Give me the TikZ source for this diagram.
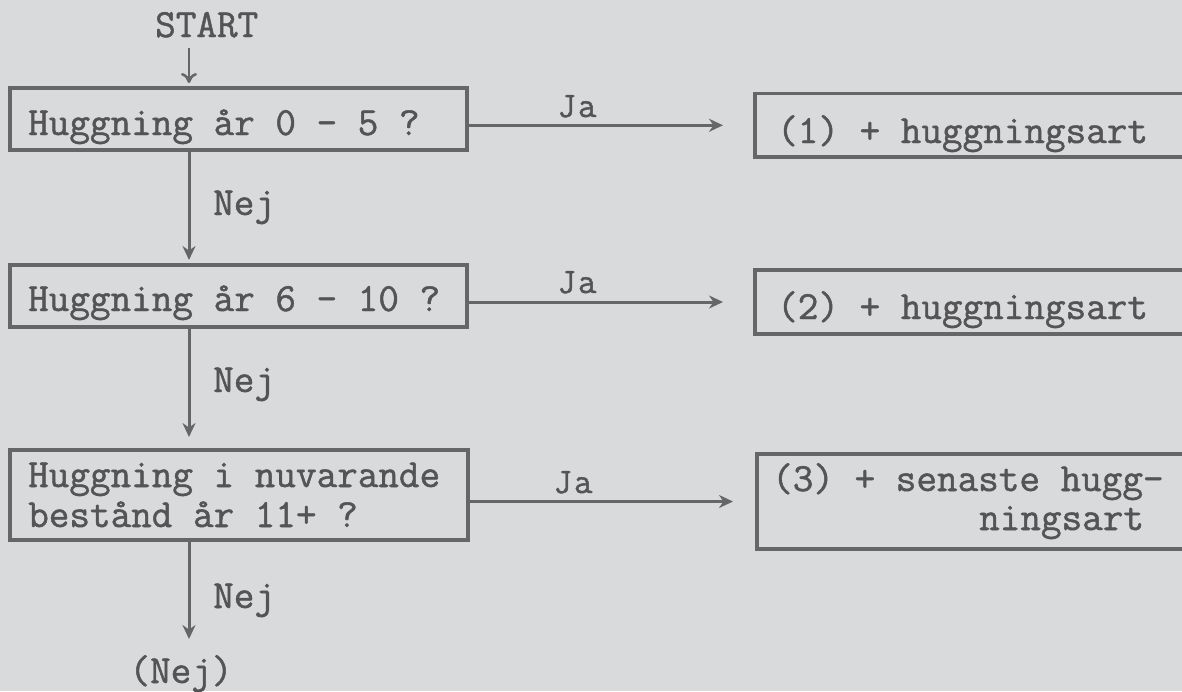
\documentclass[tikz,border=0pt]{standalone}
\usepackage{fontspec}
\setmonofont{Latin Modern Mono}[FakeBold=1.2]
\usetikzlibrary{arrows.meta,calc}
\definecolor{bgc}{RGB}{217,218,220}
\definecolor{linec}{RGB}{102,102,104}
\definecolor{textc}{RGB}{84,84,86}
\begin{document}
\begin{tikzpicture}[x=1pt,y=-1pt,
  box/.style={draw=linec, line width=3.4pt, inner sep=0pt, outer sep=0pt},
  txt/.style={inner sep=0pt, anchor=base west, text=textc, font=\fontsize{40}{40}\selectfont\ttfamily},
  jalbl/.style={inner sep=0pt, anchor=base, text=textc, font=\fontsize{36}{36}\selectfont\ttfamily},
  arr/.style={draw=linec, line width=3pt, -{Stealth[length=14pt,width=13pt]}},
  startarr/.style={draw=linec, line width=2.6pt, -{To[length=10pt,width=16pt]}}
  ]
\fill[bgc] (0,0) rectangle (1182,691);
\useasboundingbox (0,0) rectangle (1182,691);
\clip (0,0) rectangle (1182,691);
\coordinate (col) at (189,0);

% start
\node[txt] (start) at (155,37) {START};

% left boxes
\node[box, minimum width=457pt, minimum height=62pt] (b1) at (238.5,119) {};
\node[txt] (t1) at (28,135) {Huggning år 0 - 5 ?};
\node[box, minimum width=457pt, minimum height=62pt] (b2) at (238.5,296) {};
\node[txt] (t2) at (28,311) {Huggning år 6 - 10 ?};
\node[box, minimum width=458pt, minimum height=90pt] (b3) at (239,495) {};
\node[txt] (t3a) at (28,487) {Huggning i nuvarande};
\node[txt] (t3b) at (28,527) {bestånd år 11+ ?};

% right boxes (open to the right edge)
\node[box, minimum width=445pt, minimum height=63.4pt] (r1) at (977.5,125.3) {};
\node[txt] (rt1) at (777,143) {(1) + huggningsart};
\node[box, minimum width=445pt, minimum height=64pt] (r2) at (977.5,302) {};
\node[txt] (rt2) at (777,319) {(2) + huggningsart};
\node[box, minimum width=443pt, minimum height=95pt] (r3) at (978.5,501.5) {};
\node[txt] (rt3a) at (772,491) {(3) + senaste hugg-};
\node[txt] (rt3b) at (979,530) {ningsart};

% end
\node[txt, anchor=base] (nejend) at (181,683) {(Nej)};

% Nej labels
\node[txt] (n1) at (213,215) {Nej};
\node[txt] (n2) at (213,392) {Nej};
\node[txt] (n3) at (213,608) {Nej};

% Ja labels
\node[jalbl] (ja1) at (577,117) {J\kern2pt a};
\node[jalbl] (ja2) at (577,293) {J\kern2pt a};
\node[jalbl] (ja3) at (573,493) {J\kern2pt a};

% connectors
\draw[startarr, shorten <=10pt, shorten >=5pt] (start.south -| col) -- (b1.north -| col);
\draw[arr, shorten >=5pt] (b1.south -| col) -- (b2.north -| col);
\draw[arr, shorten >=13pt] (b2.south -| col) -- (b3.north -| col);
\draw[arr, shorten >=16pt] (b3.south -| col) -- (nejend.north -| col);

\draw[arr, shorten >=32pt] (b1.east |- r1.west) -- (r1.west);
\draw[arr, shorten >=32pt] (b2.east |- r2.west) -- (r2.west);
\draw[arr, shorten >=24pt] (b3.east |- r3.west) -- (r3.west);
\end{tikzpicture}
\end{document}
